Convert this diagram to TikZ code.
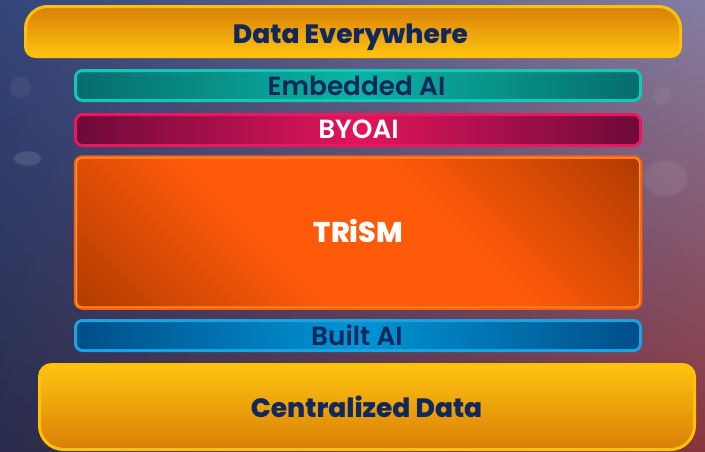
\documentclass[tikz,border=0pt]{standalone}
\usepackage{fontspec}
\newfontfamily\popbold{Poppins ExtraBold}
\newfontfamily\popmed{Poppins SemiBold}
\usetikzlibrary{fadings,shadings}

% palette
\definecolor{bgUL}{HTML}{33457A}
\definecolor{bgUR}{HTML}{847EA2}
\definecolor{bgLL}{HTML}{292C4C}
\definecolor{bgLR}{HTML}{88343C}
\definecolor{ink}{HTML}{13285A}
\definecolor{goldDark}{HTML}{D87F06}
\definecolor{goldLight}{HTML}{FFC411}
\definecolor{goldEdge}{HTML}{FFC108}
\definecolor{tealEdge}{HTML}{12C8B6}
\definecolor{tealDark}{HTML}{066C6E}
\definecolor{tealMid}{HTML}{0AB4A4}
\definecolor{roseEdge}{HTML}{EB175E}
\definecolor{roseDark}{HTML}{6C0A38}
\definecolor{roseMid}{HTML}{E2155C}
\definecolor{orangeEdge}{HTML}{FF6010}
\definecolor{orangeLine}{HTML}{FFA035}
\definecolor{orangeDark}{HTML}{A83800}
\definecolor{orangeMid}{HTML}{FF5A0A}
\definecolor{blueEdge}{HTML}{19A3E3}
\definecolor{blueDark}{HTML}{004E88}
\definecolor{blueMid}{HTML}{0095D5}

% band fills: dark at both ends, bright in the middle
\pgfdeclarehorizontalshading{tealband}{100bp}{%
  color(0bp)=(tealDark); color(25bp)=(tealDark); color(50bp)=(tealMid);
  color(75bp)=(tealDark); color(100bp)=(tealDark)}
\pgfdeclarehorizontalshading{roseband}{100bp}{%
  color(0bp)=(roseDark); color(25bp)=(roseDark); color(50bp)=(roseMid);
  color(75bp)=(roseDark); color(100bp)=(roseDark)}
\pgfdeclarehorizontalshading{blueband}{100bp}{%
  color(0bp)=(blueDark); color(25bp)=(blueDark); color(50bp)=(blueMid);
  color(75bp)=(blueDark); color(100bp)=(blueDark)}
% diagonal glow for the large orange panel
\pgfdeclarehorizontalshading{trismglow}{100bp}{%
  color(0bp)=(orangeDark); color(12bp)=(orangeDark);
  color(40bp)=(orangeMid); color(60bp)=(orangeMid);
  color(88bp)=(orangeDark); color(100bp)=(orangeDark)}

\tikzset{
  band/.style={rounded corners=7pt, line width=3pt, inner sep=0pt,
    minimum width=565pt, minimum height=30pt},
  label/.style={anchor=base, inner sep=0pt},
  big/.style={label, text=ink, font=\popbold\fontsize{26.5}{30}\selectfont},
  mid/.style={label, font=\popmed\fontsize{26.3}{30}\selectfont},
  glow/.style={fill=white, path fading=circle with fuzzy edge 20 percent},
}

\begin{document}
\begin{tikzpicture}[x=1pt, y=-1pt]
\useasboundingbox (0,0) rectangle (705,451);

% backdrop
\shade[upper left=bgUL, upper right=bgUR, lower left=bgLL, lower right=bgLR]
  (0,0) rectangle (705,451);
\fill[glow, opacity=0.12] (27,158) ellipse [x radius=15, y radius=8];
\fill[glow, opacity=0.06] (20,87) ellipse [x radius=12, y radius=12];
\fill[glow, opacity=0.08] (665,178) ellipse [x radius=24, y radius=20];
\fill[glow, opacity=0.05] (662,95) ellipse [x radius=10, y radius=10];

% top slab: large rounding above, small below
\shade[top color=goldDark, bottom color=goldLight, draw=goldEdge, line width=3pt]
  (47.5,6.5) -- (658.5,6.5) arc[start angle=270, end angle=360, radius=22]
  -- (680.5,46.5) arc[start angle=0, end angle=90, radius=10]
  -- (35.5,56.5) arc[start angle=90, end angle=180, radius=10]
  -- (25.5,28.5) arc[start angle=180, end angle=270, radius=22] -- cycle;

% bottom slab: small rounding above, large below
\shade[top color=goldLight, bottom color=goldDark, draw=goldEdge, line width=3pt]
  (51.5,364.5) -- (682.5,364.5) arc[start angle=270, end angle=360, radius=12]
  -- (694.5,425.5) arc[start angle=0, end angle=90, radius=24]
  -- (63.5,449.5) arc[start angle=90, end angle=180, radius=24]
  -- (39.5,376.5) arc[start angle=180, end angle=270, radius=12] -- cycle;

% middle bands
\node[band, draw=tealEdge, shading=tealband] (emb) at (358,85.5) {};
\node[band, draw=roseEdge, shading=roseband, minimum height=31pt] (byo) at (358,130) {};
\node[band, draw=orangeEdge, shading=trismglow, shading angle=45, line width=3.5pt,
  minimum height=151pt] (tri) at (358,232.5) {};
\draw[orangeLine, line width=1pt, rounded corners=5pt]
  ([shift={(2.6,2.6)}]tri.north west) rectangle ([shift={(-2.6,-2.6)}]tri.south east);
\node[band, draw=blueEdge, shading=blueband] (blt) at (358,335.5) {};

% labels
\node[big] (topText) at (350.5,43) {Data Everywhere};
\node[mid, text=ink] (embText) at (356.5,95) {Embedded AI};
\node[mid, text=white] (byoText) at (358.5,138) {BYOAI};
\node[label, text=white, font=\popbold\fontsize{28.5}{32}\selectfont] (triText) at (358.5,242) {TRiSM};
\node[mid, text=ink] (bltText) at (357,345) {Built AI};
\node[big] (botText) at (366.5,417) {Centralized Data};
\end{tikzpicture}
\end{document}
